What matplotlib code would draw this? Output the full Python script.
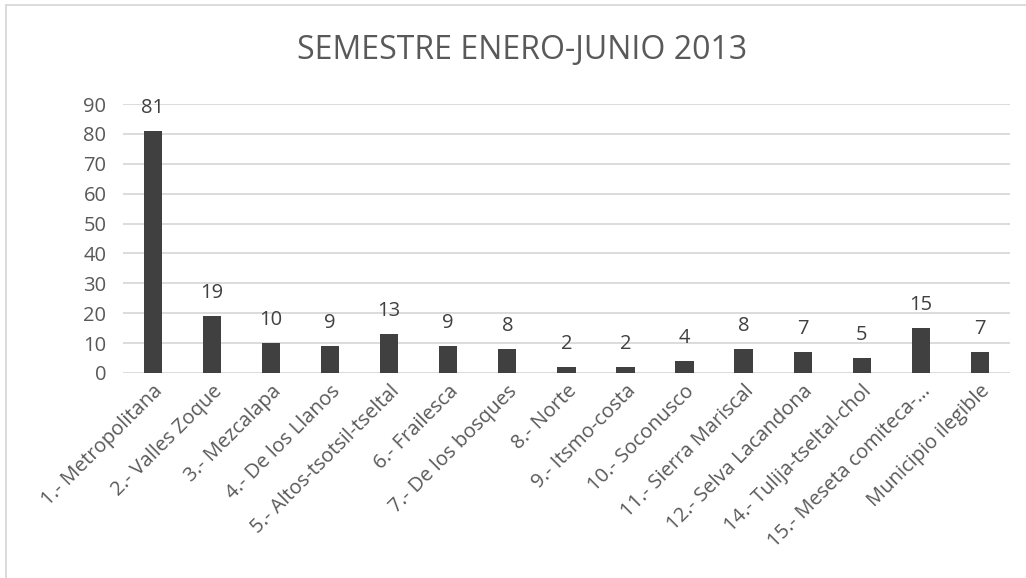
import matplotlib
matplotlib.use("Agg")
import matplotlib.pyplot as plt
from matplotlib.lines import Line2D

categories = ["1.- Metropolitana", "2.- Valles Zoque", "3.- Mezcalapa", "4.- De los Llanos",
              "5.- Altos-tsotsil-tseltal", "6.- Frailesca", "7.- De los bosques", "8.- Norte",
              "9.- Itsmo-costa", "10.- Soconusco", "11.- Sierra Mariscal", "12.- Selva Lacandona",
              "14.- Tulija-tseltal-chol", "15.- Meseta comiteca-…", "Municipio ilegible"]
values = [81, 19, 10, 9, 13, 9, 8, 2, 2, 4, 8, 7, 5, 15, 7]
yticks = [0, 10, 20, 30, 40, 50, 60, 70, 80, 90]
title = "SEMESTRE ENERO-JUNIO 2013"

plt.rcParams['font.family'] = ['Open Sans', 'DejaVu Sans']
txt = '#595959'

fig = plt.figure(figsize=(10.26, 5.78), dpi=100)
ax = fig.add_axes([0.120, 0.3547, 0.864, 0.4653])

x = list(range(len(categories)))
ax.bar(x, values, width=0.31, color='#404040', zorder=3)
for xi, v in zip(x, values):
    ax.annotate(str(v), (xi, v), xytext=(0, 9.5), textcoords='offset points',
                ha='center', va='bottom', fontsize=14.5, color='#404040')

ax.set_xlim(-0.5, len(categories) - 0.5)
ax.set_ylim(0, 90)
ax.set_yticks(yticks)
ax.set_yticklabels([str(t) for t in yticks], fontsize=14.5, color=txt)
ax.set_xticks(x)
ax.set_xticklabels(categories, rotation=45, ha='right', rotation_mode='anchor',
                   fontsize=14.5, color=txt)
ax.tick_params(axis='both', length=0)
ax.tick_params(axis='y', pad=12)
ax.tick_params(axis='x', pad=6)
ax.grid(axis='y', color='#d9d9d9', linewidth=1.3, zorder=0)
for s in ax.spines.values():
    s.set_visible(False)

fig.text(0.509, 0.913, title, ha='center', va='center', fontsize=23, color=txt)

# chart border (top and left visible)
fig.add_artist(Line2D([0.0055, 1.0], [0.9905, 0.9905], transform=fig.transFigure,
                      color='#d9d9d9', linewidth=1.3))
fig.add_artist(Line2D([0.0055, 0.0055], [0.0, 0.9905], transform=fig.transFigure,
                      color='#d9d9d9', linewidth=1.3))

fig.savefig("out.png", dpi=100)
